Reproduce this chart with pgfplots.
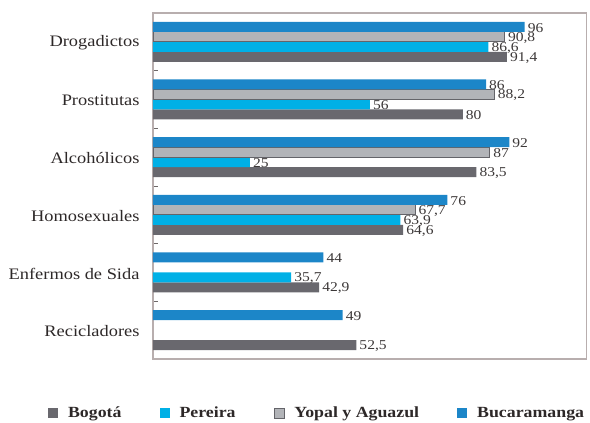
\documentclass[border=0pt]{standalone}
\usepackage{fontspec}
\setmainfont{Liberation Serif}[FakeStretch=1.15]
\usepackage{pgfplots}
\pgfplotsset{compat=1.18}
\definecolor{bucara}{RGB}{28,134,200}
\definecolor{pereira}{RGB}{0,176,230}
\definecolor{yopal}{RGB}{178,180,184}
\definecolor{yopaledge}{RGB}{100,100,105}
\definecolor{bogota}{RGB}{105,104,110}
\definecolor{framegray}{RGB}{184,174,174}
\definecolor{framedark}{RGB}{110,104,104}
\definecolor{labeltext}{RGB}{45,40,40}
\definecolor{valtext}{RGB}{60,56,56}

\begin{document}
\begin{tikzpicture}
\useasboundingbox (0,0) rectangle (590pt,423pt);
\begin{axis}[
  at={(153pt,64pt)}, anchor=south west,
  scale only axis, width=433.7pt, height=346pt,
  xbar=0pt, bar width=10pt,
  xmin=0, xmax=112, ymin=-0.5, ymax=5.5,
  xtick=\empty,
  ytick={0,...,5},
  yticklabels={Recicladores,Enfermos de Sida,Homosexuales,Alcohólicos,Prostitutas,Drogadictos},
  minor ytick={0.5,1.5,...,4.5},
  major tick length=0pt, minor tick length=5pt,
  tick align=inside, ytick pos=left,
  minor tick style={framedark, line width=0.8pt},
  axis line style={framegray, line width=1.2pt},
  yticklabel style={font=\fontsize{16}{19}\selectfont, text=labeltext, xshift=-10pt, yshift=-1pt},
  nodes near coords,
  every node near coord/.append style={font=\fontsize{13.5}{15}\selectfont, text=valtext, anchor=west, inner sep=3pt, yshift=-1pt},
  /pgf/number format/use comma,
  /pgf/number format/assume math mode=true,
  legend columns=4,
  legend image code/.code={\fill[#1] (0pt,-5pt) rectangle (10pt,5pt);},
  legend style={at={(-0.242,-0.156)}, anchor=west, draw=none, inner sep=0pt, outer sep=0pt,
    font=\bfseries\fontsize{15.5}{18}\selectfont, text=labeltext,
    /tikz/every odd column/.append style={column sep=8pt},
    /tikz/every even column/.append style={column sep=36pt}},
]
\addplot[fill=bogota, draw=none] coordinates {
  (91.4,5) (80,4) (83.5,3) (64.6,2) (42.9,1) (52.5,0)};
\addplot[fill=pereira, draw=none] coordinates {
  (86.6,5) (56,4) (25,3) (63.9,2) (35.7,1)};
\addplot[fill=yopal, draw=yopaledge, line width=0.8pt] coordinates {
  (90.8,5) (88.2,4) (87,3) (67.7,2)};
\addplot[fill=bucara, draw=none] coordinates {
  (96,5) (86,4) (92,3) (76,2) (44,1) (49,0)};
\legend{Bogotá,Pereira,Yopal y Aguazul,Bucaramanga}
\end{axis}
\end{tikzpicture}
\end{document}
